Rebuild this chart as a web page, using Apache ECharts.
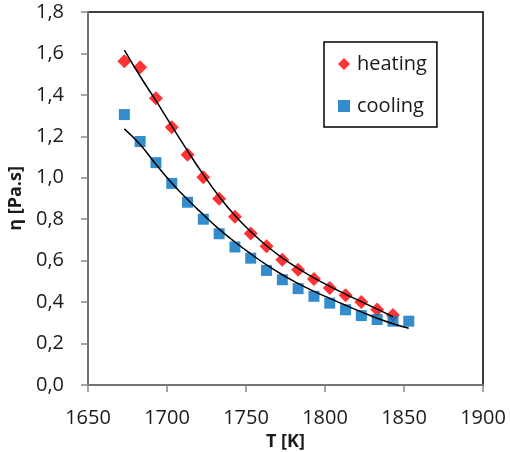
<!DOCTYPE html>
<html>
<head>
<meta charset="utf-8">
<script src="https://cdn.jsdelivr.net/npm/echarts@6/dist/echarts.min.js"></script>
<style>
  html, body { margin: 0; padding: 0; background: #fff; }
  #chart { width: 510px; height: 452px; }
</style>
</head>
<body>
<div id="chart"></div>
<script>
// measured points
var heatT = [1673, 1683, 1693, 1703, 1713, 1723, 1733, 1743, 1753, 1763, 1773, 1783, 1793, 1803, 1813, 1823, 1833, 1843];
var heatEta = [1.562, 1.533, 1.384, 1.244, 1.111, 1.003, 0.899, 0.812, 0.731, 0.669, 0.604, 0.556, 0.512, 0.468, 0.433, 0.400, 0.364, 0.338];

var coolT = [1673, 1683, 1693, 1703, 1713, 1723, 1733, 1743, 1753, 1763, 1773, 1783, 1793, 1803, 1813, 1823, 1833, 1843, 1853];
var coolEta = [1.305, 1.175, 1.073, 0.973, 0.882, 0.800, 0.730, 0.666, 0.612, 0.553, 0.508, 0.465, 0.428, 0.395, 0.363, 0.335, 0.316, 0.308, 0.308];

// trend lines
var heatFit = [1.616, 1.490, 1.372, 1.250, 1.130, 1.015, 0.910, 0.818, 0.740, 0.672, 0.614, 0.563, 0.517, 0.476, 0.438, 0.402, 0.366, 0.330];
var coolFit = [1.236, 1.160, 1.065, 0.975, 0.895, 0.822, 0.752, 0.690, 0.633, 0.580, 0.532, 0.490, 0.452, 0.418, 0.385, 0.353, 0.322, 0.296, 0.274];

function pairs(xs, ys) {
  return xs.map(function (x, i) { return [x, ys[i]]; });
}

var chart = echarts.init(document.getElementById('chart'));
var font = '"Open Sans", sans-serif';

var option = {
  animation: false,
  textStyle: { fontFamily: font },
  grid: {
    left: 88, right: 27, top: 12, bottom: 67,
    outerBoundsMode: 'none', containLabel: false,
    show: true, borderColor: '#000', borderWidth: 1.5, backgroundColor: 'transparent'
  },
  legend: {
    orient: 'vertical',
    left: 324, top: 42,
    padding: [12, 10, 11, 14],
    itemGap: 22,
    itemWidth: 12, itemHeight: 12,
    borderColor: '#000', borderWidth: 1.5,
    backgroundColor: '#fff',
    textStyle: { fontFamily: font, fontSize: 20, color: '#1a1a1a', padding: [0, 0, 0, 2] },
    data: [
      { name: 'heating', icon: 'diamond' },
      { name: 'cooling', icon: 'rect' }
    ]
  },
  xAxis: {
    type: 'value',
    min: 1650, max: 1900, interval: 50,
    name: 'T [K]', nameLocation: 'middle', nameGap: 46,
    nameTextStyle: { fontFamily: font, fontSize: 18, fontWeight: 'bold', color: '#1a1a1a' },
    axisLine: { lineStyle: { color: '#868686', width: 1.5 } },
    axisTick: { length: 7, lineStyle: { color: '#868686', width: 1.5 } },
    axisLabel: {
      fontFamily: font, fontSize: 20, color: '#1a1a1a', margin: 23,
      formatter: function (v) { return String(v); }
    },
    splitLine: { show: false }
  },
  yAxis: {
    type: 'value',
    min: 0, max: 1.8, interval: 0.2,
    name: 'η [Pa.s]', nameLocation: 'middle', nameGap: 62, nameRotate: 90,
    nameTextStyle: { fontFamily: font, fontSize: 18, fontWeight: 'bold', color: '#1a1a1a' },
    axisLine: { show: true, lineStyle: { color: '#868686', width: 1.5 } },
    axisTick: { show: true, length: 7, lineStyle: { color: '#868686', width: 1.5 } },
    axisLabel: {
      fontFamily: font, fontSize: 20, color: '#1a1a1a', margin: 24,
      formatter: function (v) { return v.toFixed(1).replace('.', ','); }
    },
    splitLine: { show: false }
  },
  series: [
    {
      name: 'heating', type: 'scatter', symbol: 'diamond', symbolSize: 14,
      itemStyle: { color: '#ff0000' },
      data: pairs(heatT, heatEta), z: 2
    },
    {
      name: 'cooling', type: 'scatter', symbol: 'rect', symbolSize: 11,
      itemStyle: { color: '#0070c0' },
      data: pairs(coolT, coolEta), z: 2
    },
    {
      name: 'heating fit', type: 'line', smooth: true, showSymbol: false,
      lineStyle: { color: '#000', width: 1.5 },
      data: pairs(heatT, heatFit), z: 3
    },
    {
      name: 'cooling fit', type: 'line', smooth: true, showSymbol: false,
      lineStyle: { color: '#000', width: 1.5 },
      data: pairs(coolT, coolFit), z: 3
    }
  ]
};

chart.setOption(option);
</script>
</body>
</html>
